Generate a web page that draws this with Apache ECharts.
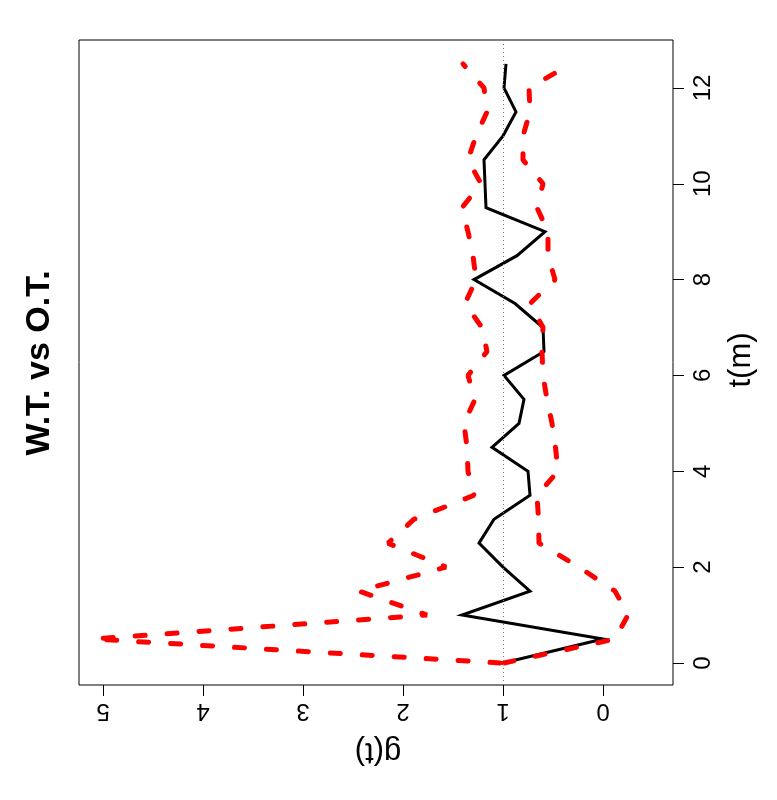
<!DOCTYPE html>
<html>
<head>
<meta charset="utf-8">
<script src="https://cdn.jsdelivr.net/npm/echarts@6/dist/echarts.min.js"></script>
<style>
html,body{margin:0;padding:0;background:#fff;}
#chart{width:777px;height:800px;}
</style>
</head>
<body>
<div id="chart"></div>
<script>
// t (months) sampled every half month
const tValues = [0, 0.5, 1, 1.5, 2, 2.5, 3, 3.5, 4, 4.5, 5, 5.5, 6, 6.5, 7, 7.5, 8, 8.5, 9, 9.5, 10, 10.5, 11, 11.5, 12, 12.5];
// observed g(t) (black solid)
const gObserved = [1.0, 0.0, 1.41, 0.73, 1.0, 1.24, 1.09, 0.73, 0.75, 1.11, 0.84, 0.79, 0.99, 0.59, 0.6, 0.88, 1.29, 0.86, 0.58, 1.17, 1.18, 1.19, 1.0, 0.87, 0.99, 0.97];
// upper envelope (red dashed)
const gUpper = [1.03, 5.09, 1.76, 2.44, 1.57, 2.15, 1.89, 1.29, 1.35, 1.36, 1.39, 1.28, 1.35, 1.16, 1.21, 1.38, 1.27, 1.30, 1.35, 1.41, 1.22, 1.35, 1.27, 1.16, 1.19, 1.40];
// lower envelope (red dashed)
const gLower = [0.99, -0.12, -0.25, -0.12, 0.24, 0.64, 0.645, 0.66, 0.45, 0.475, 0.51, 0.56, 0.60, 0.61, 0.60, 0.73, 0.48, 0.55, 0.55, 0.66, 0.60, 0.80, 0.80, 0.73, 0.74, 0.32];
// tick labels
const gTicks = [0, 1, 2, 3, 4, 5];
const tTicks = [0, 2, 4, 6, 8, 10, 12];
const refLine = 1;
const titleText = 'W.T. vs O.T.';
const gName = 'g(t)';
const tName = 't(m)';

const pairs = (g) => g.map((v, i) => [v, tValues[i]]);
const FONT = '"Liberation Sans", Arial, Helvetica, sans-serif';

const chart = echarts.init(document.getElementById('chart'), null, {renderer: 'canvas'});
chart.setOption({
  animation: false,
  backgroundColor: '#ffffff',
  grid: {
    left: 79, right: 104, top: 40, bottom: 115,
    show: true, borderColor: '#000', borderWidth: 1, backgroundColor: 'transparent'
  },
  xAxis: {
    type: 'value', inverse: true, min: -0.7, max: 5.24, position: 'bottom',
    axisLine: {show: false, onZero: false},
    splitLine: {show: false},
    axisTick: {show: true, inside: false, length: 11, lineStyle: {color: '#000', width: 1}, customValues: gTicks},
    axisLabel: {show: true, rotate: 180, margin: 14, fontSize: 24, color: '#000', fontFamily: FONT, customValues: gTicks, formatter: (v) => String(v)}
  },
  yAxis: {
    type: 'value', min: -0.46, max: 13.0, position: 'right',
    axisLine: {show: false, onZero: false},
    splitLine: {show: false},
    axisTick: {show: true, inside: false, length: 11, lineStyle: {color: '#000', width: 1}, customValues: tTicks},
    axisLabel: {show: true, rotate: 90, margin: 18, fontSize: 24, color: '#000', fontFamily: FONT, customValues: tTicks, formatter: (v) => String(v)}
  },
  series: [
    {
      type: 'line', data: [], symbol: 'none', silent: true,
      markLine: {
        silent: true, symbol: 'none', label: {show: false},
        lineStyle: {color: '#777', width: 1, type: [1, 3]},
        data: [{xAxis: refLine}]
      }
    },
    {
      name: 'observed', type: 'line', data: pairs(gObserved), symbol: 'none',
      lineStyle: {color: '#000', width: 3, join: 'miter'}
    },
    {
      name: 'upper', type: 'line', data: pairs(gUpper), symbol: 'none',
      lineStyle: {color: '#ff0000', width: 5, type: [10, 22], cap: 'round'}
    },
    {
      name: 'lower', type: 'line', data: pairs(gLower), symbol: 'none',
      lineStyle: {color: '#ff0000', width: 5, type: [10, 22], cap: 'round'}
    }
  ],
  graphic: [
    {type: 'text', x: 40, y: 363, rotation: Math.PI / 2,
     style: {text: titleText, font: 'bold 34px ' + FONT, fill: '#000', align: 'center', verticalAlign: 'middle'}},
    {type: 'text', x: 378, y: 752, rotation: Math.PI,
     style: {text: gName, font: '31px ' + FONT, fill: '#000', align: 'center', verticalAlign: 'middle'}},
    {type: 'text', x: 741, y: 360, rotation: Math.PI / 2,
     style: {text: tName, font: '31px ' + FONT, fill: '#000', align: 'center', verticalAlign: 'middle'}}
  ]
});
</script>
</body>
</html>
